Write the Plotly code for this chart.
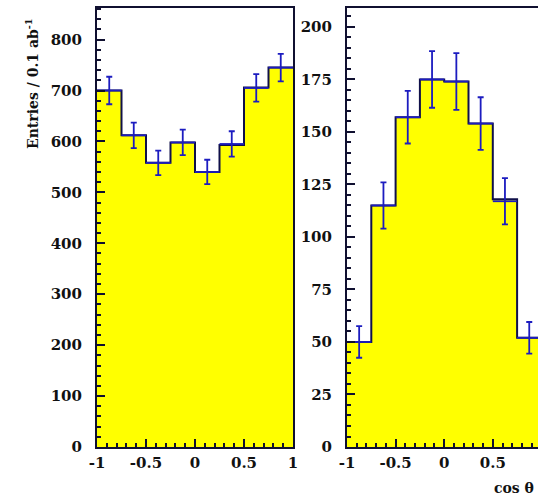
import plotly.graph_objects as go

# ---- data ----
bin_edges = [-1.0, -0.75, -0.5, -0.25, 0.0, 0.25, 0.5, 0.75, 1.0]
bin_centers = [-0.875, -0.625, -0.375, -0.125, 0.125, 0.375, 0.625, 0.875]

left_hist = [700, 612, 558, 598, 540, 593, 706, 745]
left_data = [700, 612, 558, 598, 540, 595, 705, 745]
left_err = [27, 25, 24, 25, 24, 25, 27, 27]

right_hist = [50, 115, 157, 175, 174, 154, 118, 52]
right_data = [50, 115, 157, 175, 174, 154, 117, 52]
right_err = [7.5, 11, 12.5, 13.5, 13.5, 12.5, 11, 7.5]

x_ticks = [-1, -0.5, 0, 0.5, 1]
x_ticktext = ["-1", "-0.5", "0", "0.5", "1"]
left_yticks = [0, 100, 200, 300, 400, 500, 600, 700, 800]
right_yticks = [0, 25, 50, 75, 100, 125, 150, 175, 200]

W, H = 538, 504
YELLOW = "#FFFF00"
OUTLINE = "#10104a"
CROSS = "#1c1cc0"
AX = "#101030"
FONT = dict(family="DejaVu Serif", size=15, color="#111111", weight="bold")

fig = go.Figure()


def add_panel(hist, data, err, xa, ya):
    fig.add_trace(go.Scatter(
        x=bin_edges, y=hist + [hist[-1]], mode="lines",
        line=dict(shape="hv", color=OUTLINE, width=2),
        fill="tozeroy", fillcolor=YELLOW,
        xaxis=xa, yaxis=ya, showlegend=False, hoverinfo="skip"))
    fig.add_trace(go.Scatter(
        x=bin_centers, y=data, mode="markers",
        marker=dict(size=2, color=CROSS),
        error_y=dict(type="data", array=err, color=CROSS, thickness=1.8, width=3),
        error_x=dict(type="constant", value=0.125, color=CROSS, thickness=1.8, width=0),
        xaxis=xa, yaxis=ya, showlegend=False))


add_panel(left_hist, left_data, left_err, "x", "y")
add_panel(right_hist, right_data, right_err, "x2", "y2")

y_dom = [(H - 447) / H, (H - 8) / H]

common_x = dict(
    tickmode="array", tickvals=x_ticks, ticktext=x_ticktext,
    ticks="inside", ticklen=8, tickwidth=1.8, tickcolor=AX,
    minor=dict(dtick=0.1, ticks="inside", ticklen=4, tickwidth=1.5, tickcolor=AX),
    showline=True, linecolor=AX, linewidth=2, showgrid=False, zeroline=False,
    tickfont=FONT, ticklabelstandoff=1, automargin=False,
)
common_y = dict(
    ticks="inside", ticklen=8, tickwidth=1.8, tickcolor=AX,
    showline=True, linecolor=AX, linewidth=2, showgrid=False, zeroline=False,
    tickfont=FONT, ticklabelstandoff=10, automargin=False,
)

fig.update_layout(
    width=W, height=H,
    margin=dict(l=0, r=0, t=0, b=0),
    paper_bgcolor="white", plot_bgcolor="white",
    xaxis=dict(domain=[97 / W, 293 / W], range=[-1, 1], anchor="y", mirror=True, **common_x),
    yaxis=dict(domain=y_dom, range=[0, 862], anchor="x", mirror=True,
               tickmode="array", tickvals=left_yticks,
               minor=dict(dtick=20, ticks="inside", ticklen=4, tickwidth=1.5, tickcolor=AX),
               **common_y),
    xaxis2=dict(domain=[347 / W, 1.0], range=[-1, 0.965], anchor="y2", mirror=True, **common_x),
    yaxis2=dict(domain=y_dom, range=[0, 209], anchor="x2", mirror=False,
                tickmode="array", tickvals=right_yticks,
                minor=dict(dtick=5, ticks="inside", ticklen=4, tickwidth=1.5, tickcolor=AX),
                **common_y),
    annotations=[
        dict(text="Entries / 0.1 ab<sup>-1</sup>", textangle=-90,
             xref="paper", yref="paper", x=32 / W, y=1 - 84 / H,
             xanchor="center", yanchor="middle", showarrow=False,
             font=dict(family="DejaVu Serif", size=14, color="#111111", weight="bold")),
        dict(text="cos θ", xref="paper", yref="paper", x=492 / W, y=1 - 488 / H,
             xanchor="left", yanchor="middle", showarrow=False,
             font=dict(family="DejaVu Serif", size=14, color="#111111", weight="bold")),
    ],
)

fig.write_html("out.html")
